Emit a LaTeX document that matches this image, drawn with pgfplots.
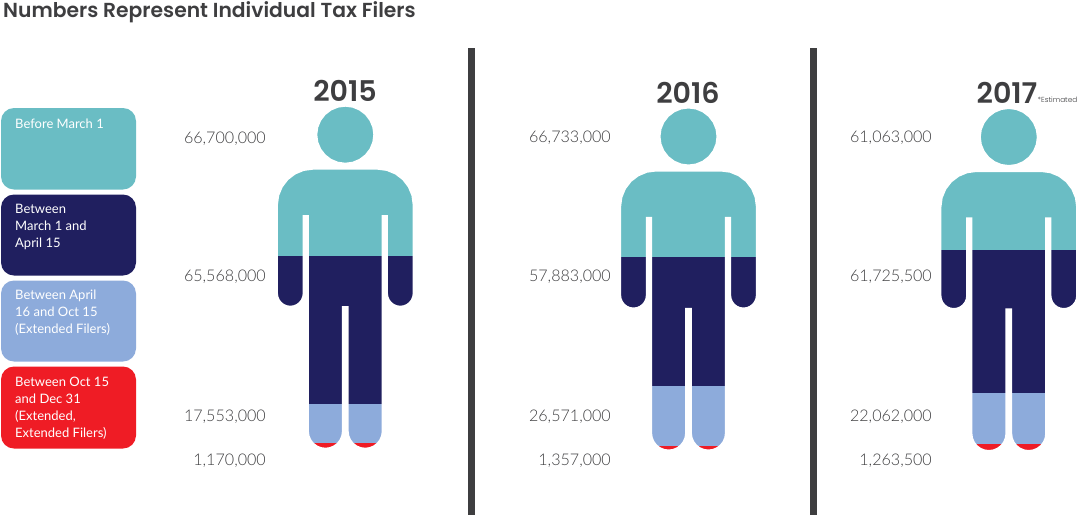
\documentclass[border=0pt]{standalone}
\usepackage{fontspec}
\usepackage{pgfplots}
\usepackage{pgfplotstable}
\pgfplotsset{compat=1.18}
\setmainfont{Poppins}
\newfontfamily\numfont{Poppins Light}
\newfontfamily\valfont{Lato Light}
\newfontfamily\boldfont{Poppins SemiBold}
\newfontfamily\legfont{Lato}

\definecolor{cBefore}{HTML}{6ABDC4}
\definecolor{cApril}{HTML}{201F5F}
\definecolor{cOct}{HTML}{8DABDB}
\definecolor{cDec}{HTML}{EF1C25}
\definecolor{cText}{HTML}{3E3E40}

% white cover with the person cut out of it, px relative to top centre of the head
\pgfplotstableread{
dx dy
0 -2
72 -2
72 345
-72 345
-72 -2
0 -2
0 0
7.25 0.95
14 3.75
19.8 8.2
24.25 14
27.05 20.75
28 28
27.05 35.25
24.25 42
19.8 47.8
14 52.25
7.25 55.05
0 56
0 63
32.35 63
41.41 64.2
49.85 67.7
57.1 73.25
62.65 80.5
66.15 88.94
67.35 98
67.35 186.65
66.93 189.85
65.7 192.83
63.73 195.38
61.18 197.35
58.2 198.58
55 199
51.8 198.58
48.82 197.35
46.27 195.38
44.3 192.83
43.07 189.85
42.65 186.65
42.65 108.3
36.4 108.3
36.4 324.5
35.84 328.77
34.19 332.75
31.57 336.17
28.15 338.79
24.17 340.44
19.9 341
15.63 340.44
11.65 338.79
8.23 336.17
5.61 332.75
3.96 328.77
3.4 324.5
3.4 199.3
-3.4 199.3
-3.4 324.5
-3.96 328.77
-5.61 332.75
-8.23 336.17
-11.65 338.79
-15.63 340.44
-19.9 341
-24.17 340.44
-28.15 338.79
-31.57 336.17
-34.19 332.75
-35.84 328.77
-36.4 324.5
-36.4 108.3
-42.65 108.3
-42.65 186.65
-43.07 189.85
-44.3 192.83
-46.27 195.38
-48.82 197.35
-51.8 198.58
-55 199
-58.2 198.58
-61.18 197.35
-63.73 195.38
-65.7 192.83
-66.93 189.85
-67.35 186.65
-67.35 98
-66.15 88.94
-62.65 80.5
-57.1 73.25
-49.85 67.7
-41.41 64.2
-32.35 63
0 63
0 56
-7.25 55.05
-14 52.25
-19.8 47.8
-24.25 42
-27.05 35.25
-28 28
-27.05 20.75
-24.25 14
-19.8 8.2
-14 3.75
-7.25 0.95
0 0
0 -2
}\personmask

\pgfplotsset{
  person/.style={
    hide axis, scale only axis, width=136pt, height=340pt,
    anchor=south west, xmin=-0.5, xmax=0.5, ymin=0,
    y dir=reverse, ybar stacked, bar width=136pt,
  },
  band/.style={fill=#1, draw=none, bar shift=0pt},
}

\begin{document}
\begin{tikzpicture}[x=1pt,y=1pt]
\useasboundingbox (0,0) rectangle (1078,515);

% the red caps run on under the last bar to the end of the feet
\fill[cDec] (305,64) rectangle (385,75);
\fill[cDec] (648,62) rectangle (729,73);
\fill[cDec] (969,62) rectangle (1049,73);

% 2015
\begin{axis}[person, at={(277.3pt,68.9pt)}, ymax=150991000]
\addplot[band=cBefore] coordinates {(0,66700000)};
\addplot[band=cApril] coordinates {(0,65568000)};
\addplot[band=cOct] coordinates {(0,17553000)};
\addplot[band=cDec] coordinates {(0,1170000)};
\end{axis}
% 2016
\begin{axis}[person, height=341pt, at={(620.5pt,66.1pt)}, ymax=152544000]
\addplot[band=cBefore] coordinates {(0,66733000)};
\addplot[band=cApril] coordinates {(0,57883000)};
\addplot[band=cOct] coordinates {(0,26571000)};
\addplot[band=cDec] coordinates {(0,1357000)};
\end{axis}
% 2017
\begin{axis}[person, height=338.5pt, at={(940.8pt,68pt)}, ymax=146114000]
\addplot[band=cBefore] coordinates {(0,61063000)};
\addplot[band=cApril] coordinates {(0,61725500)};
\addplot[band=cOct] coordinates {(0,22062000)};
\addplot[band=cDec] coordinates {(0,1263500)};
\end{axis}

% page sized axis in reference pixels: cut-outs, bars, legend, text
\begin{axis}[
  at={(0pt,0pt)}, anchor=south west, hide axis, scale only axis,
  width=1078pt, height=515pt,
  xmin=0, xmax=1078, ymin=0, ymax=515, y dir=reverse,
]
\addplot[fill=white, draw=none, even odd rule] table[x expr=\thisrow{dx}+345.3, y expr=\thisrow{dy}+106.7] {\personmask};
\addplot[fill=white, draw=none, even odd rule] table[x expr=\thisrow{dx}+688.5, y expr=\thisrow{dy}+108.5] {\personmask};
\addplot[fill=white, draw=none, even odd rule] table[x expr=\thisrow{dx}+1008.8, y expr=\thisrow{dy}+109] {\personmask};

\addplot[fill=cText, draw=none] coordinates {(468,48)(475,48)(475,515)(468,515)};
\addplot[fill=cText, draw=none] coordinates {(810,48)(817,48)(817,515)(810,515)};

\fill[cBefore, rounded corners=13pt] (axis cs:1,108) rectangle (axis cs:136,189.5);
\fill[cApril, rounded corners=13pt] (axis cs:1,194.5) rectangle (axis cs:136,275.5);
\fill[cOct, rounded corners=13pt] (axis cs:1,280.5) rectangle (axis cs:136,361.5);
\fill[cDec, rounded corners=13pt] (axis cs:1,366.5) rectangle (axis cs:136,448.5);

\tikzset{leg/.style={anchor=north west, inner sep=0pt, align=left, text=white,
  font=\legfont\fontsize{13}{17}\selectfont}}
\node[leg] at (axis cs:15,119) {Before March 1};
\node[leg] at (axis cs:15,204) {Between\\March 1 and\\April 15};
\node[leg] at (axis cs:15,290) {Between April\\16 and Oct 15\\(Extended Filers)};
\node[leg] at (axis cs:15,377) {Between Oct 15\\and Dec 31\\(Extended,\\Extended Filers)};

\node[anchor=base west, inner sep=0pt, text=cText, font=\boldfont\fontsize{20.3}{24}\selectfont] at (axis cs:3,17) {Numbers Represent Individual Tax Filers};

\tikzset{yr/.style={anchor=base, inner sep=0pt, text=cText, font=\boldfont\fontsize{28.5}{32}\selectfont}}
\node[yr] at (axis cs:345,101) {2015};
\node[yr] at (axis cs:688,103) {2016};
\node[yr] at (axis cs:1007,103) {2017};
\node[anchor=base west, inner sep=0pt, text=cText, font=\numfont\fontsize{7.3}{8}\selectfont] at (axis cs:1037.5,102) {*Estimated};

\tikzset{val/.style={anchor=base east, inner sep=0pt, text=cText, font=\valfont\fontsize{16.1}{20}\selectfont}}
\node[val] at (axis cs:266,143) {66,700,000};
\node[val] at (axis cs:266,281) {65,568,000};
\node[val] at (axis cs:266,421) {17,553,000};
\node[val] at (axis cs:266,465) {1,170,000};
\node[val] at (axis cs:611,142) {66,733,000};
\node[val] at (axis cs:611,281) {57,883,000};
\node[val] at (axis cs:611,421) {26,571,000};
\node[val] at (axis cs:611,465) {1,357,000};
\node[val] at (axis cs:932,142) {61,063,000};
\node[val] at (axis cs:932,281) {61,725,500};
\node[val] at (axis cs:932,421) {22,062,000};
\node[val] at (axis cs:932,465) {1,263,500};
\end{axis}
\end{tikzpicture}
\end{document}
